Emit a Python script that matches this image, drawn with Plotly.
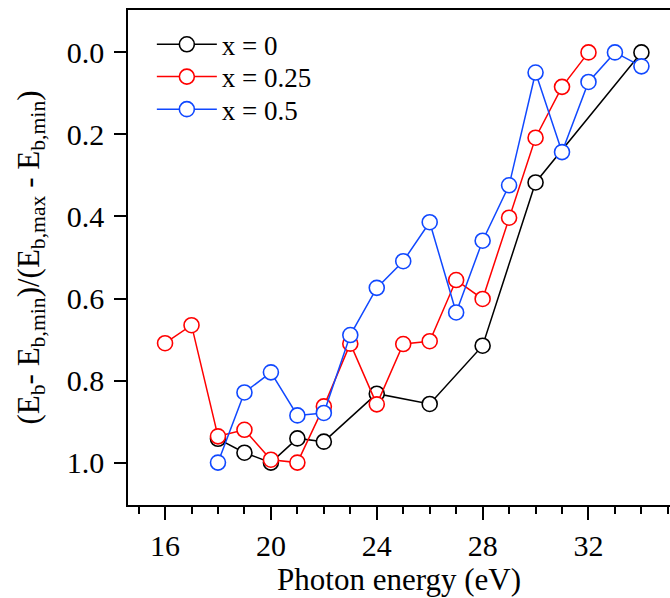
import plotly.graph_objects as go

# Normalised binding energy vs photon energy for three compositions
energy_x0 = [18, 19, 20, 21, 22, 24, 26, 28, 30, 34]
norm_x0 = [0.942, 0.976, 1.0, 0.941, 0.949, 0.832, 0.857, 0.715, 0.317, 0.0]

energy_x025 = [16, 17, 18, 19, 20, 21, 22, 23, 24, 25, 26, 27, 28, 29, 30, 31, 32]
norm_x025 = [0.709, 0.665, 0.936, 0.920, 0.993, 1.0, 0.863, 0.710, 0.858, 0.711,
             0.704, 0.555, 0.601, 0.403, 0.208, 0.084, 0.0]

energy_x05 = [18, 19, 20, 21, 22, 23, 24, 25, 26, 27, 28, 29, 30, 31, 32, 33, 34]
norm_x05 = [1.0, 0.829, 0.780, 0.885, 0.879, 0.689, 0.574, 0.509, 0.414, 0.634,
            0.459, 0.324, 0.049, 0.243, 0.072, 0.0, 0.034]

series_names = ["x = 0", "x = 0.25", "x = 0.5"]
series_colors = ["#000000", "#ff0000", "#1048ff"]
legend_ids = ["legend", "legend2", "legend3"]
legend_rows = [0.9298, 0.8645, 0.7988]   # paper-y of each legend entry

x_tick_vals = [16, 20, 24, 28, 32]
y_tick_vals = [0.0, 0.2, 0.4, 0.6, 0.8, 1.0]
y_tick_text = ["0.0", "0.2", "0.4", "0.6", "0.8", "1.0"]

FONT = "'Liberation Serif', 'Times New Roman', Times, serif"

fig = go.Figure()
for xs, ys, name, col, lg in zip(
    [energy_x0, energy_x025, energy_x05],
    [norm_x0, norm_x025, norm_x05],
    series_names, series_colors, legend_ids,
):
    fig.add_trace(go.Scatter(
        x=xs, y=ys, name=name, mode="lines+markers", legend=lg,
        line=dict(color=col, width=1.5),
        marker=dict(symbol="circle", size=15, color="white",
                    line=dict(color=col, width=1.6)),
    ))

legend_style = dict(
    x=0.044, xanchor="left", yanchor="middle",
    xref="paper", yref="paper",
    bgcolor="rgba(0,0,0,0)", borderwidth=0,
    font=dict(family=FONT, size=27, color="black"),
    itemwidth=60,
)

fig.update_layout(
    width=670, height=598,
    margin=dict(l=128, r=0, t=9.5, b=92.5),
    paper_bgcolor="white", plot_bgcolor="white",
    font=dict(family=FONT, size=30, color="black"),
    showlegend=True,
    legend=dict(y=legend_rows[0], **legend_style),
    legend2=dict(y=legend_rows[1], **legend_style),
    legend3=dict(y=legend_rows[2], **legend_style),
    xaxis=dict(
        range=[14.6, 35.08],
        tickmode="array", tickvals=x_tick_vals,
        ticks="outside", ticklen=13, tickwidth=1.5, tickcolor="black",
        minor=dict(dtick=1, tick0=0, ticks="outside", ticklen=7,
                   tickwidth=1.5, tickcolor="black", showgrid=False),
        showline=True, linecolor="black", linewidth=1.5, mirror=True,
        showgrid=False, zeroline=False,
        tickfont=dict(family=FONT, size=30),
        title=dict(text="Photon energy (eV)",
                   font=dict(family=FONT, size=31), standoff=5),
    ),
    yaxis=dict(
        range=[1.1034, -0.1034],
        tickmode="array", tickvals=y_tick_vals, ticktext=y_tick_text,
        ticks="outside", ticklen=12, tickwidth=1.5, tickcolor="black",
        ticklabelstandoff=4,
        showline=True, linecolor="black", linewidth=1.5, mirror=False,
        showgrid=False, zeroline=False,
        tickfont=dict(family=FONT, size=30),
    ),
)

fig.add_annotation(
    text="(E<sub>b</sub>- E<sub>b,min</sub>)/(E<sub>b,max</sub> - E<sub>b,min</sub>)",
    xref="paper", yref="paper", x=0, y=0.5,
    xshift=-98, xanchor="center", yanchor="middle",
    textangle=-90, showarrow=False,
    font=dict(family=FONT, size=31, color="black"),
)

fig.write_html("out.html")
